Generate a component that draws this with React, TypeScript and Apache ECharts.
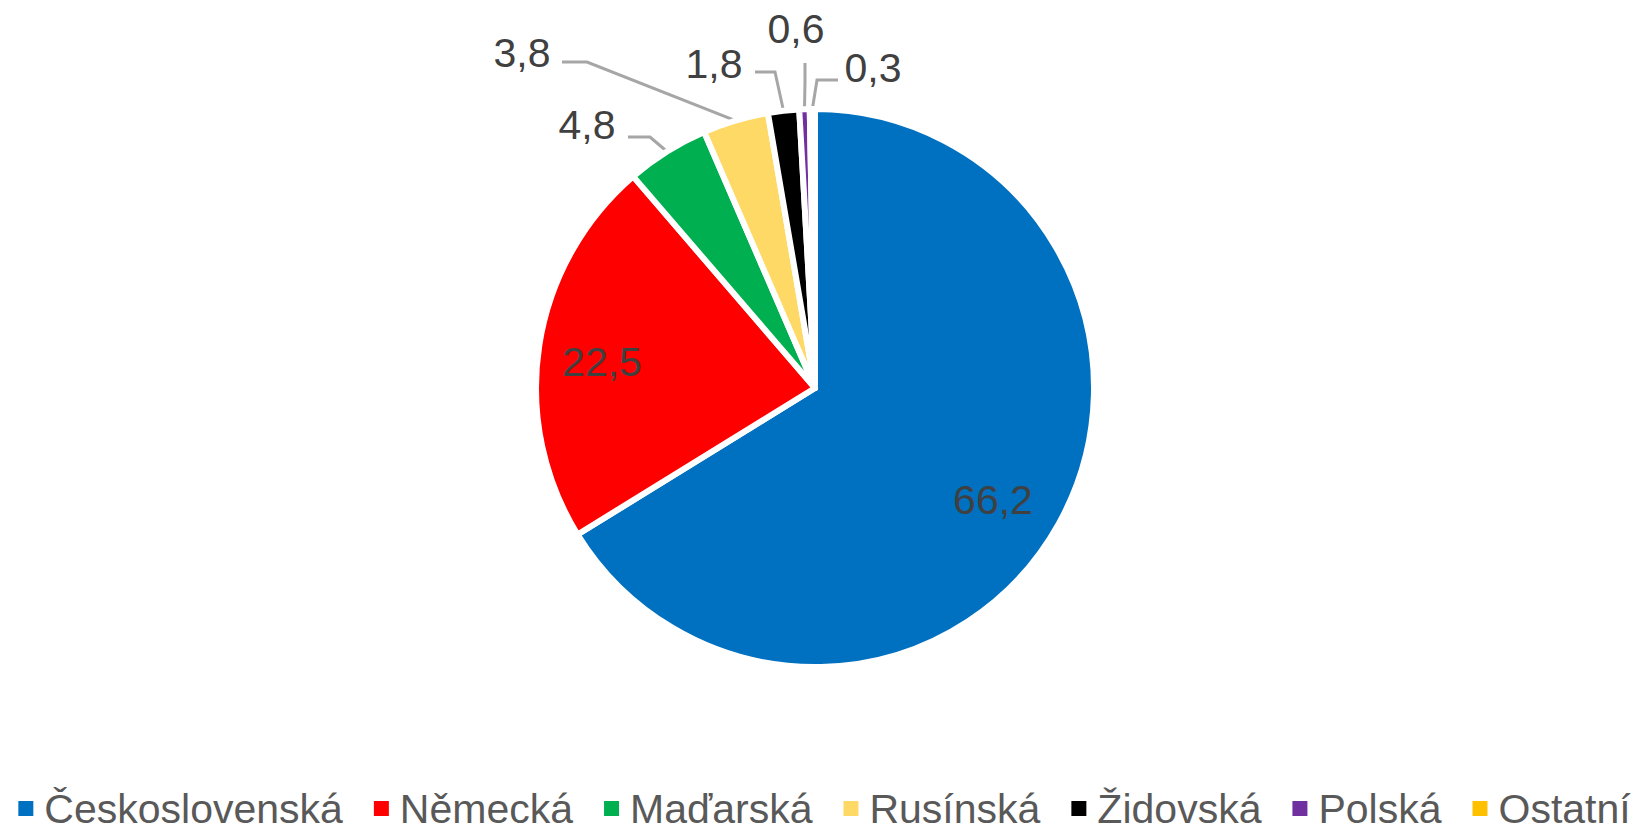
import React, { useEffect, useRef } from "react";
import * as echarts from "echarts";

const categories = ["Československá", "Německá", "Maďarská", "Rusínská", "Židovská", "Polská", "Ostatní"];
const values = [66.2, 22.5, 4.8, 3.8, 1.8, 0.6, 0.3];
const colors = ["#0070C0", "#FF0000", "#00B050", "#FFD966", "#000000", "#7030A0", "#FFC000"];
const insideLabel = [true, true, false, false, false, false, false];

// label layout: text centre and leader-line elbow/end points (page pixels)
const labelCenters: [number, number][] = [
  [993, 500],
  [602, 362],
  [587, 125],
  [522, 53],
  [714, 64],
  [796, 29],
  [873, 68],
];
const lineBends: [number, number][][] = [
  [],
  [],
  [[650, 137], [628, 137]],
  [[587, 62], [562, 62]],
  [[775, 72], [755, 72]],
  [[805, 82], [805, 63]],
  [[817, 80], [838, 80]],
];

const FONT = "'Liberation Sans', Arial, sans-serif";

export default function App() {
  const ref = useRef<HTMLDivElement>(null);
  useEffect(() => {
    document.body.style.margin = "0";
    document.body.style.overflow = "hidden";
    const chart = echarts.init(ref.current!, null, { renderer: "svg" });
    chart.setOption({
      animation: false,
      backgroundColor: "#ffffff",
      color: colors,
      legend: {
        data: categories,
        bottom: 5,
        padding: 0,
        left: "center",
        icon: "rect",
        itemWidth: 17,
        itemHeight: 17,
        itemGap: 29,
        textStyle: {
          fontFamily: FONT,
          fontSize: 41,
          lineHeight: 40,
          color: "#595959",
          padding: [0, 0, 0, 5],
        },
      },
      series: [
        {
          type: "pie",
          center: [815, 388],
          radius: 279,
          startAngle: 90,
          clockwise: true,
          avoidLabelOverlap: false,
          itemStyle: { borderColor: "#ffffff", borderWidth: 6 },
          label: {
            show: true,
            position: "outside",
            fontFamily: FONT,
            fontSize: 41,
            color: "#404040",
            formatter: (p: any) => String(p.value).replace(".", ","),
          },
          labelLine: {
            show: true,
            length: 20,
            length2: 20,
            lineStyle: { color: "#A6A6A6", width: 3 },
          },
          emphasis: { disabled: true },
          labelLayout: (params: any) => {
            const i = params.dataIndex;
            const c = labelCenters[i];
            const res: any = { x: c[0], y: c[1], align: "center", verticalAlign: "middle" };
            if (!insideLabel[i] && params.labelLinePoints) {
              const p0 = params.labelLinePoints[0];
              res.labelLinePoints = [p0, lineBends[i][0], lineBends[i][1]];
            }
            return res;
          },
          data: categories.map((name, i) => ({
            name,
            value: values[i],
            label: insideLabel[i] ? { position: "inside" } : undefined,
            labelLine: insideLabel[i] ? { show: false } : undefined,
          })),
        },
      ],
    });
    return () => chart.dispose();
  }, []);
  return <div ref={ref} style={{ width: 1647, height: 834 }} />;
}
